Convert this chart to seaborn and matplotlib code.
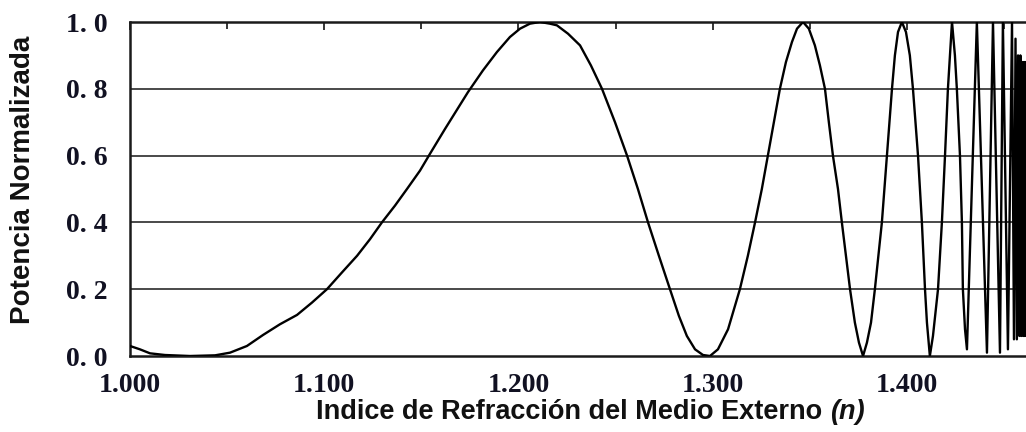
import numpy as np
import pandas as pd
import matplotlib
matplotlib.use("Agg")
import matplotlib.pyplot as plt
import seaborn as sns

# Curve (index n, normalised power)
indice_n = [
    1.0000, 1.0051, 1.0103, 1.0180, 1.0309, 1.0438, 1.0515, 1.0602, 1.0685,
    1.0772, 1.0860, 1.0937, 1.1014, 1.1091, 1.1169, 1.1236, 1.1297, 1.1364,
    1.1426, 1.1493, 1.1544, 1.1622, 1.1740, 1.1817, 1.1889, 1.1956, 1.2008,
    1.2059, 1.2111, 1.2162, 1.2198, 1.2255, 1.2317, 1.2373, 1.2430, 1.2497,
    1.2559, 1.2615, 1.2667, 1.2723, 1.2780, 1.2826, 1.2867, 1.2909, 1.2950,
    1.2986, 1.3027, 1.3079, 1.3140, 1.3181, 1.3218, 1.3253, 1.3284, 1.3315,
    1.3346, 1.3377, 1.3408, 1.3434, 1.3465, 1.3495, 1.3526, 1.3552, 1.3578,
    1.3598, 1.3619, 1.3645, 1.3665, 1.3686, 1.3707, 1.3732, 1.3753, 1.3774,
    1.3794, 1.3815, 1.3835, 1.3871, 1.3897, 1.3923, 1.3938, 1.3954, 1.3974,
    1.3995, 1.4015, 1.4031, 1.4057, 1.4077, 1.4093, 1.4103, 1.4118, 1.4134,
    1.4160, 1.4180, 1.4196, 1.4211, 1.4232, 1.4247, 1.4257, 1.4273, 1.4283,
    1.4288, 1.4299, 1.4309, 1.4360, 1.4412, 1.4443, 1.4479, 1.4494, 1.4520,
    1.4541, 1.4551, 1.4559, 1.4566, 1.4572, 1.4579, 1.4584, 1.4589, 1.4594,
    1.4599, 1.4603, 1.4607, 1.4611, 1.4614,
]
potencia = [
    0.030, 0.020, 0.008, 0.003, 0.000, 0.002, 0.010, 0.030, 0.063,
    0.095, 0.123, 0.160, 0.200, 0.250, 0.300, 0.350, 0.400, 0.450,
    0.500, 0.555, 0.605, 0.680, 0.790, 0.855, 0.910, 0.955, 0.980,
    0.995, 1.000, 0.995, 0.990, 0.965, 0.930, 0.870, 0.800, 0.700,
    0.600, 0.500, 0.400, 0.300, 0.200, 0.120, 0.060, 0.020, 0.003,
    0.000, 0.020, 0.080, 0.200, 0.300, 0.400, 0.500, 0.600, 0.700,
    0.800, 0.880, 0.940, 0.980, 1.000, 0.980, 0.930, 0.870, 0.800,
    0.700, 0.600, 0.500, 0.400, 0.300, 0.200, 0.100, 0.040, 0.000,
    0.040, 0.100, 0.200, 0.400, 0.600, 0.800, 0.900, 0.970, 1.000,
    0.970, 0.900, 0.800, 0.600, 0.400, 0.200, 0.100, 0.000, 0.060,
    0.200, 0.400, 0.600, 0.800, 1.000, 0.900, 0.800, 0.600, 0.400,
    0.200, 0.080, 0.020, 1.000, 0.010, 1.000, 0.010, 1.000, 0.020,
    1.000, 0.050, 0.950, 0.050, 0.900, 0.060, 0.900, 0.060, 0.880,
    0.060, 0.880, 0.060, 0.880, 0.060,
]

xticks = [1.0, 1.1, 1.2, 1.3, 1.4]
xtick_labels = ["1.000", "1.100", "1.200", "1.300", "1.400"]
yticks = [0.0, 0.2, 0.4, 0.6, 0.8, 1.0]
ytick_labels = ["0. 0", "0. 2", "0. 4", "0. 6", "0. 8", "1. 0"]

df = pd.DataFrame({"n": indice_n, "P": potencia})

sns.set_style("white")
plt.rcParams["font.family"] = ["Liberation Sans", "DejaVu Sans"]

fig = plt.figure(figsize=(10.26, 4.32), dpi=100)
ax = fig.add_axes([130 / 1026, 1 - 356 / 432, 1 - 130 / 1026, (356 - 22) / 432])

# horizontal grid lines
for g in [0.2, 0.4, 0.6, 0.8]:
    ax.axhline(g, color="#3a3a3a", lw=1.3, zorder=1)

sns.lineplot(data=df, x="n", y="P", color="black", lw=1.7,
             estimator=None, sort=False, ax=ax, zorder=3)

ax.set_xlim(1.0, 1.4613)
ax.set_ylim(0.0, 1.0)
ax.set_xticks(xticks)
ax.set_xticklabels(xtick_labels)
ax.set_xticks(np.arange(1.05, 1.46, 0.1), minor=True)
ax.set_yticks(yticks)
ax.set_yticklabels(ytick_labels)
ax.set_yticks([0.1, 0.3, 0.5, 0.7, 0.9], minor=True)

for lab in ax.get_xticklabels() + ax.get_yticklabels():
    lab.set_fontfamily("Liberation Serif")
    lab.set_fontweight("bold")
    lab.set_fontsize(20)
    lab.set_color("#111122")

ax.tick_params(axis="x", which="major", direction="in", length=6, width=1.3,
               top=True, pad=12)
ax.tick_params(axis="x", which="minor", direction="in", length=5, width=1.3,
               top=True)
ax.tick_params(axis="y", which="major", direction="in", length=0, pad=16)
ax.tick_params(axis="y", which="minor", direction="in", length=5, width=1.3)

for side in ["left", "bottom", "top"]:
    ax.spines[side].set_color("#1a1a1a")
    ax.spines[side].set_linewidth(1.8)
ax.spines["right"].set_visible(False)

ax.set_xlabel("")
ax.set_ylabel("")
fig.text(23 / 1026, 1 - 180 / 432, "Potencia Normalizada", rotation=90,
         ha="center", va="center", fontsize=20, fontweight="bold",
         color="#111111")

main = fig.text(316 / 1026, 1 - 419 / 432, "Indice de Refracción del Medio Externo ",
                ha="left", va="baseline", fontsize=19.5, fontweight="bold",
                color="#111111")
ax.annotate("(n)", xy=(1, 0), xycoords=main, ha="left", va="bottom",
            fontsize=19.5, fontweight="bold", fontstyle="italic", color="#111111")

fig.savefig("out.png", dpi=100)
